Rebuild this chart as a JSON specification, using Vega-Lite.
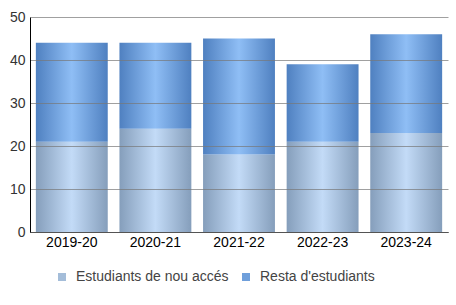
{
  "$schema": "https://vega.github.io/schema/vega-lite/v6.json",
  "width": 418,
  "height": 215,
  "autosize": {"type": "none"},
  "padding": {"left": 30, "top": 17, "right": 8, "bottom": 73},
  "background": "white",
  "data": {
    "values": [
      {"curs": "2019-20", "serie": "Estudiants de nou accés", "valor": 21},
      {"curs": "2019-20", "serie": "Resta d'estudiants", "valor": 23},
      {"curs": "2020-21", "serie": "Estudiants de nou accés", "valor": 24},
      {"curs": "2020-21", "serie": "Resta d'estudiants", "valor": 20},
      {"curs": "2021-22", "serie": "Estudiants de nou accés", "valor": 18},
      {"curs": "2021-22", "serie": "Resta d'estudiants", "valor": 27},
      {"curs": "2022-23", "serie": "Estudiants de nou accés", "valor": 21},
      {"curs": "2022-23", "serie": "Resta d'estudiants", "valor": 18},
      {"curs": "2023-24", "serie": "Estudiants de nou accés", "valor": 23},
      {"curs": "2023-24", "serie": "Resta d'estudiants", "valor": 23}
    ]
  },
  "transform": [
    {"stack": "valor", "groupby": ["curs"], "sort": [{"field": "serie", "order": "ascending"}], "as": ["v0", "v1"]}
  ],
  "encoding": {
    "x": {
      "field": "curs", "type": "nominal", "title": null,
      "scale": {"paddingInner": 0.14, "paddingOuter": 0.07},
      "axis": {"labelAngle": 0, "ticks": false, "domainColor": "#000", "labelColor": "#000", "labelFont": "Liberation Sans", "labelFontSize": 14, "labelPadding": 3}
    },
    "y": {
      "field": "v0", "type": "quantitative", "title": null,
      "scale": {"domain": [0, 50]},
      "axis": {"values": [0, 10, 20, 30, 40, 50], "ticks": false, "domainColor": "#000", "gridColor": "#777", "gridOpacity": 0.7, "zindex": 1, "labelColor": "#333", "labelFont": "Liberation Sans", "labelFontSize": 14, "labelPadding": 5}
    },
    "y2": {"field": "v1"}
  },
  "layer": [
    {
      "mark": {"type": "bar", "opacity": 0},
      "encoding": {
        "color": {
          "field": "serie", "type": "nominal", "title": null,
          "scale": {"domain": ["Estudiants de nou accés", "Resta d'estudiants"], "range": ["#a4bdd9", "#6f9fdb"]},
          "legend": {
            "orient": "none", "legendX": 25, "legendY": 253, "direction": "horizontal", "symbolType": "square", "symbolSize": 64, "symbolStrokeWidth": 0, "symbolOpacity": 1,
            "labelFont": "Liberation Sans", "labelFontSize": 14, "labelColor": "#444", "labelOffset": 7, "columnPadding": 10,
            "encode": {"symbols": {"update": {
              "fill": [
                {"test": "indexof(datum.value, 'nou') >= 0", "value": {"gradient": "linear", "x1": 0, "y1": 0, "x2": 1, "y2": 0, "stops": [{"offset": 0, "color": "#859ebb"}, {"offset": 0.5, "color": "#c3dbf7"}, {"offset": 1, "color": "#859ebb"}]}},
                {"value": {"gradient": "linear", "x1": 0, "y1": 0, "x2": 1, "y2": 0, "stops": [{"offset": 0, "color": "#4f80c0"}, {"offset": 0.5, "color": "#8fbef5"}, {"offset": 1, "color": "#4f80c0"}]}}
              ],
              "opacity": {"value": 1}}}}
          }
        }
      }
    },
    {
      "transform": [{"filter": "indexof(datum.serie, 'nou') >= 0"}],
      "mark": {"type": "bar", "color": {"gradient": "linear", "x1": 0, "y1": 0, "x2": 1, "y2": 0, "stops": [
        {"offset": 0, "color": "#859ebb"}, {"offset": 0.5, "color": "#c3dbf7"}, {"offset": 1, "color": "#859ebb"}]}}
    },
    {
      "transform": [{"filter": "indexof(datum.serie, 'nou') < 0"}],
      "mark": {"type": "bar", "color": {"gradient": "linear", "x1": 0, "y1": 0, "x2": 1, "y2": 0, "stops": [
        {"offset": 0, "color": "#4f80c0"}, {"offset": 0.5, "color": "#8fbef5"}, {"offset": 1, "color": "#4f80c0"}]}}
    }
  ],
  "config": {"view": {"stroke": null}}
}
